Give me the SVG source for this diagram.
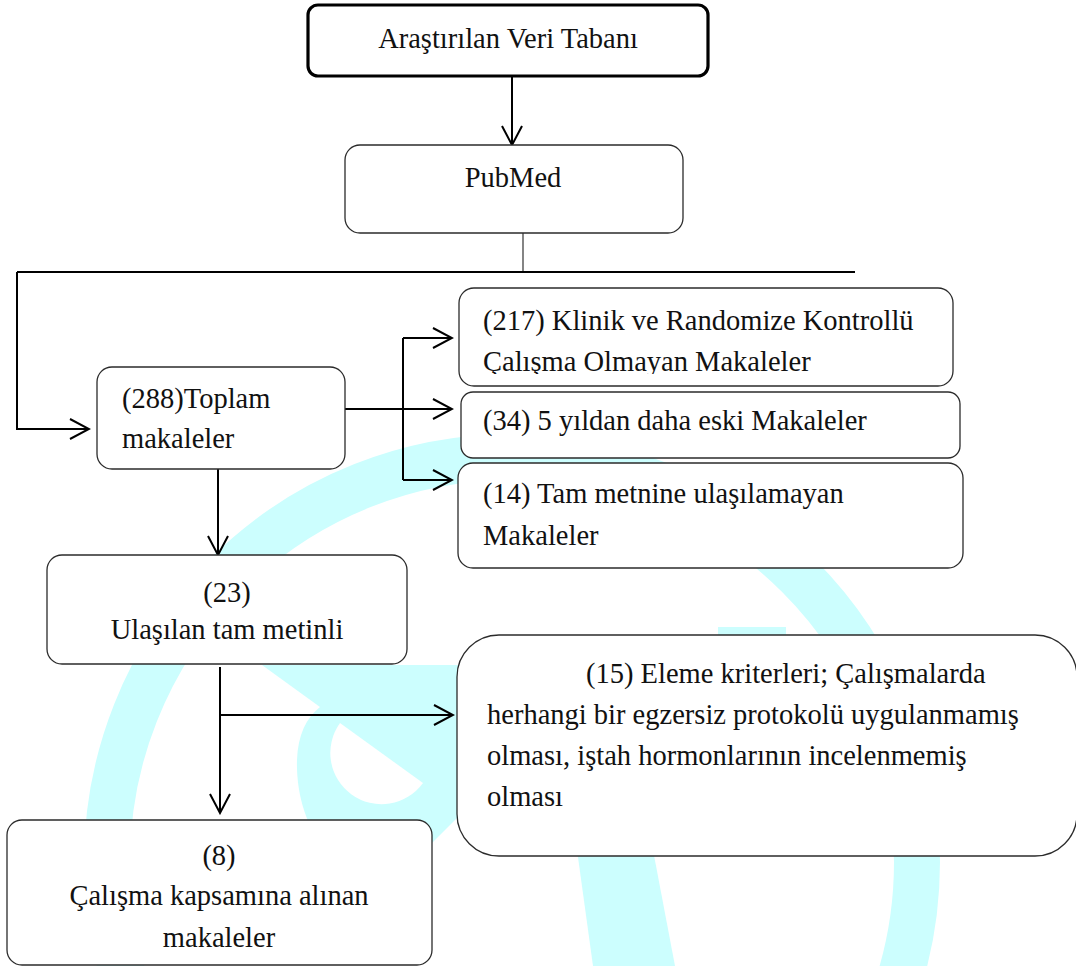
<svg xmlns="http://www.w3.org/2000/svg" width="1076" height="966" viewBox="0 0 1076 966">
  <defs>
    <style>
      .box { fill: #ffffff; stroke: #2b2b2b; stroke-width: 1.3; }
      .box-main { fill: #ffffff; stroke: #000000; stroke-width: 3.2; }
      .lbl { font-family: "Liberation Serif", "Times New Roman", serif; font-size: 28.5px; fill: #111111; }
      .mid { text-anchor: middle; }
      .wire { fill: none; stroke: #000000; stroke-width: 2; }
      .thin { fill: none; stroke: #333333; stroke-width: 1.2; }
      .mark { fill: #ccfefe; }
    </style>
    <marker id="arrow" markerUnits="userSpaceOnUse" markerWidth="24" markerHeight="24" viewBox="-22 -12 24 24" refX="0" refY="0" orient="auto">
      <path d="M-19,-10 L0,0 L-19,10" fill="none" stroke="#000000" stroke-width="2"/>
    </marker>
    <clipPath id="clip217">
      <rect x="459" y="288" width="494" height="86"/>
    </clipPath>
  </defs>

  <rect x="0" y="0" width="1076" height="966" fill="#ffffff"/>

  <!-- background emblem -->
  <g id="emblem">
    <circle cx="512" cy="862" r="405" fill="none" stroke="#ccfefe" stroke-width="46"/>
    <path class="mark" d="M262,665 H470 V805 L422,853 H330 C305,830 296,790 297,760 C298,735 306,718 320,707 Z"/>
    <path d="M340,723 A51,51 0 0 0 423,783 Z" fill="#ffffff"/>
    <path class="mark" d="M577,850 L653,850 L675,966 L593,966 Z"/>
    <rect class="mark" x="718" y="627" width="68" height="14"/>
  </g>

  <!-- connectors -->
  <g id="connectors">
    <line class="wire" x1="512" y1="76" x2="512" y2="145" marker-end="url(#arrow)"/>
    <line class="thin" x1="523" y1="233" x2="523" y2="272"/>
    <line class="wire" x1="17" y1="272" x2="855" y2="272"/>
    <polyline class="wire" points="17,272 17,429 89,429" marker-end="url(#arrow)"/>
    <line class="wire" x1="345" y1="409" x2="452" y2="409" marker-end="url(#arrow)"/>
    <line class="wire" x1="403" y1="338" x2="403" y2="480"/>
    <line class="wire" x1="403" y1="338" x2="452" y2="338" marker-end="url(#arrow)"/>
    <line class="wire" x1="403" y1="480" x2="452" y2="480" marker-end="url(#arrow)"/>
    <line class="wire" x1="218" y1="469" x2="218" y2="555" marker-end="url(#arrow)"/>
    <line class="wire" x1="220" y1="667" x2="220" y2="813" marker-end="url(#arrow)"/>
    <line class="wire" x1="220" y1="715" x2="453" y2="715" marker-end="url(#arrow)"/>
  </g>

  <!-- nodes -->
  <g id="node-database">
    <rect class="box-main" x="308" y="5" width="400" height="71" rx="10"/>
    <text class="lbl mid" x="508" y="48">Araştırılan Veri Tabanı</text>
  </g>

  <g id="node-pubmed">
    <rect class="box" x="345" y="145" width="338" height="88" rx="15"/>
    <text class="lbl mid" x="513" y="187">PubMed</text>
  </g>

  <g id="node-total">
    <rect class="box" x="97" y="367" width="248" height="102" rx="15"/>
    <text class="lbl" x="122" y="408">(288)Toplam</text>
    <text class="lbl" x="122" y="448">makaleler</text>
  </g>

  <g id="node-nonrct">
    <rect class="box" x="459" y="288" width="494" height="98" rx="15"/>
    <g clip-path="url(#clip217)">
      <text class="lbl" x="483" y="330">(217) Klinik ve Randomize Kontrollü</text>
      <text class="lbl" x="483" y="371">Çalışma Olmayan Makaleler</text>
    </g>
  </g>

  <g id="node-old">
    <rect class="box" x="461" y="392" width="499" height="66" rx="12"/>
    <text class="lbl" x="483" y="430">(34) 5 yıldan daha eski Makaleler</text>
  </g>

  <g id="node-nofulltext">
    <rect class="box" x="458" y="463" width="505" height="105" rx="15"/>
    <text class="lbl" x="483" y="503">(14) Tam metnine ulaşılamayan</text>
    <text class="lbl" x="483" y="545">Makaleler</text>
  </g>

  <g id="node-fulltext">
    <rect class="box" x="47" y="555" width="360" height="109" rx="15"/>
    <text class="lbl mid" x="227" y="602">(23)</text>
    <text class="lbl mid" x="227" y="639">Ulaşılan tam metinli</text>
  </g>

  <g id="node-exclusion">
    <rect class="box" x="457" y="635" width="620" height="221" rx="42"/>
    <text class="lbl" x="586" y="683">(15) Eleme kriterleri; Çalışmalarda</text>
    <text class="lbl" x="487" y="724">herhangi bir egzersiz protokolü uygulanmamış</text>
    <text class="lbl" x="487" y="765">olması, iştah hormonlarının incelenmemiş</text>
    <text class="lbl" x="487" y="806">olması</text>
  </g>

  <g id="node-included">
    <rect class="box" x="7" y="820" width="425" height="145" rx="15"/>
    <text class="lbl mid" x="219" y="865">(8)</text>
    <text class="lbl mid" x="219" y="905">Çalışma kapsamına alınan</text>
    <text class="lbl mid" x="219" y="947">makaleler</text>
  </g>
</svg>
